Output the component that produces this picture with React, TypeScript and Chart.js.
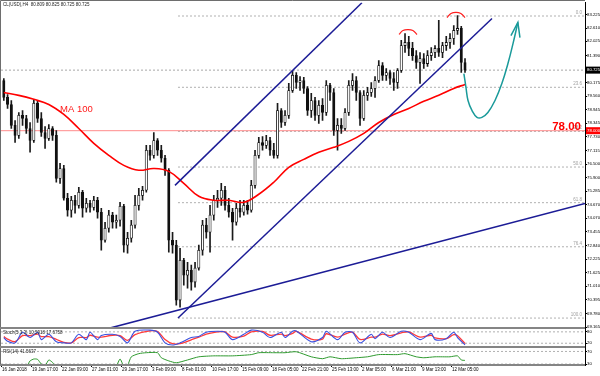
import React, { useEffect, useRef } from "react";
import { Chart, registerables } from "chart.js";

Chart.register(...registerables);

const FONT = '"Liberation Sans", Arial, sans-serif';

// ---------- texts ----------
const titleText = "CL(USD),H4  80.809 80.825 80.725 80.725";
const stochText = "Stoch(5,3,3) 10.5918 17.6758";
const rsiText = "RSI(14) 41.5637";
const maText = "MA 100";

// ---------- time axis (H4 bar units) ----------
const dateTickBars = [0, 16, 32, 48, 64, 80, 96, 112, 128, 144, 160, 176, 192, 208, 224, 240];
const dateLabels = [
  "16 Jan 2018", "19 Jan 17:00", "22 Jan 09:00", "27 Jan 01:00", "29 Jan 17:00", "3 Feb 09:00",
  "8 Feb 01:00", "10 Feb 17:00", "15 Feb 09:00", "18 Feb 05:00", "22 Feb 21:00", "25 Feb 13:00",
  "2 Mar 05:00", "6 Mar 21:00", "9 Mar 13:00", "12 Mar 05:00",
];

// ---------- price axis ----------
const priceTicks = [
  83.225, 82.61, 82.025, 81.39, 80.175, 79.56, 78.945, 78.345, 77.73, 77.115, 76.5, 75.9,
  75.285, 74.67, 74.07, 73.455, 72.84, 72.225, 71.625, 71.01, 70.395, 69.78, 69.165,
];
const stochTicks = [80, 20];
const rsiTicks = [70, 30];

// ---------- candles (each = 2 H4 bars) ----------
const opens = [
  80.26, 79.5, 79.18, 78.24, 77.79, 78.69, 78.55, 78.1, 77.56, 79.23,
  78.55, 77.92, 77.65, 78.1, 77.79, 75.85, 76.3, 74.96, 74.42, 74.87,
  74.64, 75.23, 74.51, 74.73, 74.55, 74.87, 74.33, 73.07, 73.61, 74.2,
  73.88, 73.97, 74.6, 72.85, 73.16, 73.75, 74.64, 75.09, 75.32, 77.12,
  76.89, 77.56, 77.12, 76.76, 76.22, 73.07, 72.85, 70.38, 72.17, 71.5,
  71.72, 71.19, 71.82, 72.62, 73.75, 73.43, 74.2, 74.87, 74.96, 75.32,
  74.64, 74.33, 73.88, 74.51, 74.33, 74.64, 74.42, 75.54, 76.89, 77.47,
  77.34, 77.56, 77.12, 76.89, 78.91, 78.37, 78.69, 79.81, 80.49, 80.17,
  80.26, 79.9, 78.91, 79.36, 78.69, 79.14, 78.82, 80.04, 79.72, 78.01,
  78.24, 78.1, 78.82, 80.04, 80.26, 79.72, 78.55, 79.59, 79.72, 79.9,
  80.26, 80.93, 80.49, 80.62, 80.35, 80.17, 80.71, 81.83, 81.97, 81.7,
  81.38, 81.07, 81.25, 81.02, 81.38, 81.52, 81.7, 81.52, 81.83, 81.97,
  82.15, 82.51, 82.6, 81.07,
];
const highs = [
  80.35, 79.63, 79.36, 78.46, 78.82, 78.91, 78.69, 78.37, 79.41, 79.36,
  78.82, 78.19, 78.28, 78.19, 78.01, 76.53, 76.44, 75.18, 75.05, 75.09,
  75.45, 75.32, 74.96, 74.87, 75.05, 75.0, 74.51, 73.88, 74.42, 74.33,
  74.2, 74.78, 74.69, 73.43, 73.97, 75.09, 75.41, 75.5, 77.34, 77.34,
  77.92, 77.65, 77.34, 76.89, 76.3, 73.43, 73.07, 72.71, 72.26, 72.08,
  71.95, 72.08, 72.85, 73.97, 74.06, 74.64, 75.09, 75.32, 75.63, 75.5,
  74.96, 74.51, 74.73, 74.87, 74.87, 74.87, 75.77, 77.12, 77.7, 77.74,
  77.79, 77.7, 77.43, 79.23, 79.0, 78.91, 80.13, 80.71, 80.62, 80.44,
  80.4, 79.99, 79.68, 79.5, 79.36, 79.45, 80.26, 80.13, 79.9, 78.55,
  78.55, 79.0, 80.26, 80.57, 80.44, 79.81, 79.81, 79.95, 80.17, 80.44,
  81.16, 81.07, 80.8, 80.71, 80.62, 80.8, 82.06, 82.37, 82.24, 81.97,
  81.61, 81.52, 81.47, 81.61, 81.74, 81.83, 82.96, 81.97, 82.24, 82.37,
  82.73, 83.18, 82.69, 81.25,
];
const lows = [
  79.36, 79.0, 78.1, 77.47, 77.65, 78.24, 77.88, 77.03, 77.47, 78.37,
  77.74, 77.2, 77.56, 77.56, 75.68, 75.63, 74.87, 74.15, 74.11, 74.29,
  74.51, 74.11, 74.33, 74.33, 74.42, 74.06, 72.62, 72.98, 73.43, 73.61,
  73.61, 73.7, 72.53, 72.49, 72.98, 73.61, 74.42, 74.87, 75.23, 76.67,
  76.76, 76.89, 76.58, 75.99, 72.53, 72.49, 70.15, 70.06, 71.05, 70.92,
  70.83, 70.96, 71.72, 72.4, 73.16, 72.53, 73.97, 74.55, 74.64, 74.42,
  74.11, 73.07, 73.75, 74.11, 74.2, 74.24, 74.33, 75.41, 76.76, 77.12,
  77.2, 76.89, 76.76, 76.76, 78.15, 78.24, 78.55, 79.72, 79.9, 79.81,
  79.68, 78.69, 78.6, 78.46, 78.33, 78.46, 78.69, 79.36, 77.79, 77.12,
  77.88, 78.01, 78.69, 79.81, 79.36, 78.24, 78.46, 79.36, 79.54, 79.5,
  80.17, 80.26, 80.26, 80.08, 79.81, 79.9, 80.62, 81.52, 81.38, 81.16,
  80.8, 80.13, 80.8, 80.89, 81.16, 81.29, 81.34, 81.29, 81.61, 81.7,
  81.88, 82.33, 80.62, 80.62,
];
const closes = [
  79.5, 79.18, 78.24, 77.79, 78.69, 78.55, 78.1, 77.56, 79.23, 78.55,
  77.92, 77.65, 78.1, 77.79, 75.85, 76.3, 74.96, 74.42, 74.87, 74.64,
  75.23, 74.51, 74.73, 74.55, 74.87, 74.33, 73.07, 73.61, 74.2, 73.88,
  73.97, 74.6, 72.85, 73.16, 73.75, 74.64, 75.09, 75.32, 77.12, 76.89,
  77.56, 77.12, 76.76, 76.22, 73.07, 72.85, 70.38, 72.17, 71.5, 71.72,
  71.19, 71.82, 72.62, 73.75, 73.43, 74.2, 74.87, 74.96, 75.32, 74.64,
  74.33, 73.88, 74.51, 74.33, 74.64, 74.42, 75.54, 76.89, 77.47, 77.34,
  77.56, 77.12, 76.89, 78.91, 78.37, 78.69, 79.81, 80.49, 80.17, 80.26,
  79.9, 78.91, 79.36, 78.69, 79.14, 78.82, 80.04, 79.72, 78.01, 78.24,
  78.1, 78.82, 80.04, 80.26, 79.72, 78.55, 79.59, 79.72, 79.9, 80.26,
  80.93, 80.49, 80.62, 80.35, 80.17, 80.71, 81.83, 81.97, 81.7, 81.38,
  81.07, 81.25, 81.02, 81.38, 81.52, 81.7, 81.52, 81.83, 81.97, 82.15,
  82.51, 82.6, 81.07, 80.725,
];

// ---------- MA 100 (sampled at candle indices) ----------
const maIdx = [0, 4, 8, 12, 16, 20, 24, 28, 32, 36, 40, 44, 48, 52, 56, 60, 64, 68, 72, 76, 80, 84, 88, 92, 96, 100, 104, 108, 112, 116, 120, 123];
const maValues = [
  79.72, 79.59, 79.41, 79.18, 78.73, 78.1, 77.43, 76.89, 76.44, 76.22, 76.3, 76.17, 75.63, 75.05, 74.87, 74.87,
  74.78, 75.14, 75.68, 76.35, 76.71, 77.03, 77.25, 77.52, 77.88, 78.37, 78.73, 79.0, 79.32, 79.59, 79.9, 80.08,
];

// ---------- Stochastic (candle indices) ----------
const stochIdx = [
  0, 1, 3, 5, 7, 9, 10, 12, 14, 16, 18, 20, 22, 23, 25, 26, 29, 31, 33, 35, 39, 41, 43, 45, 47, 50, 52, 54, 57, 59,
  61, 64, 66, 69, 71, 74, 75, 77, 78, 82, 85, 86, 89, 91, 93, 95, 98, 99, 101, 103, 106, 108, 111, 114, 115, 118, 120, 121, 123,
];
const stochMain = [
  50, 30, 22, 78, 50, 78, 39, 67, 28, 22, 22, 67, 39, 78, 39, 61, 67, 56, 22, 83, 89, 78, 22, 11, 22, 50, 56, 78, 83, 78,
  39, 67, 89, 78, 50, 78, 50, 83, 85, 28, 50, 83, 39, 78, 78, 22, 67, 44, 78, 50, 83, 78, 39, 72, 39, 44, 78, 50, 11,
];
const stochSignal = [
  55, 42, 28, 60, 60, 68, 55, 55, 40, 25, 22, 50, 50, 62, 52, 52, 62, 60, 35, 65, 85, 82, 40, 18, 18, 38, 52, 68, 80, 80,
  52, 58, 80, 82, 62, 68, 60, 72, 82, 42, 42, 70, 52, 68, 78, 40, 52, 52, 68, 60, 75, 80, 52, 62, 48, 44, 65, 60, 18,
];

// ---------- RSI (candle indices) ----------
const rsiIdx = [
  0, 2, 4, 6, 7, 8, 9, 10, 11, 12, 13, 14, 16, 20, 24, 28, 30, 31, 32, 33, 34, 36, 38, 41, 42, 44, 46, 49, 52, 56,
  61, 66, 68, 72, 75, 78, 82, 85, 87, 90, 94, 97, 100, 105, 107, 110, 112, 115, 119, 121, 122, 123,
];
const rsiValues = [
  24, 20, 24, 22, 40, 46, 45, 30, 25, 43, 35, 20, 18, 24, 22, 20, 25, 46, 24, 26, 53, 63, 66, 66, 50, 40, 34, 43, 53, 56,
  56, 60, 66, 66, 66, 69, 53, 47, 53, 47, 50, 53, 60, 60, 63, 53, 50, 53, 53, 56, 43, 41.56,
];

// ---------- levels ----------
const lastPrice = 80.725;
const keyLevel = 78.0;
const fibHigh = 83.16;
const fibLow = 69.57;
const fibStartBar = 93.9;
const fibLevels = [0, 23.6, 38.2, 50, 61.8, 76.4, 100];

// ---------- drawn objects (bar, price) ----------
const upperChannelBars = [92.3, 192.0];
const upperChannelPrices = [75.54, 83.76];
const lowerChannelBars = [93.9, 261.4];
const lowerChannelPrices = [69.57, 83.05];
const supportBars = [57.6, 311];
const supportPrices = [69.12, 74.73];
const arrowBars = [246.4, 247.5, 248.6, 250.7, 253.4, 256.0, 259.2, 263.0, 266.7, 269.9, 272.6, 275.2];
const arrowPrices = [80.57, 79.95, 79.36, 78.91, 78.6, 78.6, 78.82, 79.36, 80.13, 81.02, 81.92, 82.87];
const arrowHeadBars = [271.5, 275.2, 276.3];
const arrowHeadPrices = [82.28, 82.87, 82.19];
const arc1Bars = [211.8, 213.9, 216.6, 219.2, 221.4];
const arc1Prices = [82.33, 82.51, 82.55, 82.51, 82.33];
const arc2Bars = [237.4, 239.5, 242.2, 244.8, 247.0];
const arc2Prices = [83.09, 83.27, 83.32, 83.27, 83.09];
const maLabelAt = { bar: 31, price: 78.82 };

const X_MIN = -0.5;
const X_MAX = 311;

const pts = (xs: number[], ys: number[]) => xs.map((x, k) => ({ x, y: ys[k] }));
const candleBar = (i: number) => 2 * i + 1;

export default function App() {
  const ref = useRef<HTMLCanvasElement | null>(null);

  useEffect(() => {
    const canvas = ref.current;
    if (!canvas) return;
    Chart.defaults.font.family = FONT;

    const line = (data: any[], color: string, width: number, extra: any = {}) => ({
      type: "line",
      data,
      borderColor: color,
      borderWidth: width,
      pointRadius: 0,
      fill: false,
      tension: 0,
      yAxisID: "y",
      clip: 0,
      order: 2,
      ...extra,
    });

    const fibPrice = (p: number) => fibHigh - (p / 100) * (fibHigh - fibLow);

    const datasets: any[] = [
      // candles
      {
        type: "bar",
        data: highs.map((h, i) => ({ x: candleBar(i), y: [lows[i], h] })),
        backgroundColor: "#1a1a1a",
        barThickness: 1,
        grouped: false,
        yAxisID: "y",
        order: 6,
        clip: 0,
      },
      {
        type: "bar",
        data: opens.map((o, i) => ({ x: candleBar(i), y: [o, closes[i]] })),
        backgroundColor: opens.map((o, i) => (closes[i] >= o ? "#ffffff" : "#111111")),
        borderColor: "#111",
        borderWidth: 0.8,
        borderSkipped: false,
        barThickness: 2.4,
        grouped: false,
        yAxisID: "y",
        order: 5,
        clip: 0,
      },
      // levels
      line([{ x: X_MIN, y: keyLevel }, { x: X_MAX, y: keyLevel }], "#ff8c8c", 1, { order: 7 }),
      line([{ x: X_MIN, y: lastPrice }, { x: X_MAX, y: lastPrice }], "#a8a8a8", 1, { order: 8, borderDash: [2, 2] }),
      ...fibLevels.map((f) =>
        line([{ x: fibStartBar, y: fibPrice(f) }, { x: X_MAX, y: fibPrice(f) }], "#b0b0b0", 1, { order: 8, borderDash: [2, 2] })
      ),
      // MA 100
      line(pts(maIdx.map(candleBar), maValues), "#ff0000", 1.6, { tension: 0.4, order: 3 }),
      // trend lines
      line(pts(upperChannelBars, upperChannelPrices), "#1c1c96", 1.5),
      line(pts(lowerChannelBars, lowerChannelPrices), "#1c1c96", 1.5),
      line(pts(supportBars, supportPrices), "#1c1c96", 1.5),
      // arcs
      line(pts(arc1Bars, arc1Prices), "#ff2020", 1.2, { tension: 0.4 }),
      line(pts(arc2Bars, arc2Prices), "#ff2020", 1.2, { tension: 0.4 }),
      // projected path arrow
      line(pts(arrowBars, arrowPrices), "#1a9a9a", 1.5, { tension: 0.4, order: 1 }),
      line(pts(arrowHeadBars, arrowHeadPrices), "#1a9a9a", 1.5, { order: 1 }),
      // stochastic
      line([{ x: X_MIN, y: 80 }, { x: X_MAX, y: 80 }], "#b0b0b0", 1, { yAxisID: "yS", borderDash: [2, 2], order: 8 }),
      line([{ x: X_MIN, y: 20 }, { x: X_MAX, y: 20 }], "#b0b0b0", 1, { yAxisID: "yS", borderDash: [2, 2], order: 8 }),
      line(pts(stochIdx.map(candleBar), stochSignal), "#ff3b3b", 1.3, { yAxisID: "yS", tension: 0.3, order: 4 }),
      line(pts(stochIdx.map(candleBar), stochMain), "#3a50e0", 1.1, { yAxisID: "yS", tension: 0.3, order: 3 }),
      // RSI
      line([{ x: X_MIN, y: 70 }, { x: X_MAX, y: 70 }], "#b0b0b0", 1, { yAxisID: "yR", borderDash: [2, 2], order: 8 }),
      line([{ x: X_MIN, y: 30 }, { x: X_MAX, y: 30 }], "#b0b0b0", 1, { yAxisID: "yR", borderDash: [2, 2], order: 8 }),
      line(pts(rsiIdx.map(candleBar), rsiValues), "#2f9a2f", 1, { yAxisID: "yR", tension: 0.2, order: 3 }),
    ];

    const axisTicks = { size: 4.3, family: FONT };

    const overlay = {
      id: "overlay",
      beforeDraw(chart: any) {
        const { ctx, width, height } = chart;
        ctx.save();
        ctx.fillStyle = "#ffffff";
        ctx.fillRect(0, 0, width, height);
        ctx.restore();
      },
      afterDraw(chart: any) {
        const { ctx, chartArea: a, scales } = chart;
        const { x, y, yS, yR } = scales;
        ctx.save();
        // frame
        ctx.strokeStyle = "#6e6e6e";
        ctx.lineWidth = 1;
        ctx.beginPath();
        ctx.moveTo(0.5, yR.bottom);
        ctx.lineTo(0.5, 0.5);
        ctx.lineTo(a.right, 0.5);
        ctx.stroke();
        // pane separators
        ctx.strokeStyle = "#858585";
        ctx.lineWidth = 2;
        [y.bottom, yS.bottom, yR.bottom].forEach((b: number) => {
          ctx.beginPath();
          ctx.moveTo(0, b);
          ctx.lineTo(a.right, b);
          ctx.stroke();
        });
        // fib labels
        ctx.font = `4.5px ${FONT}`;
        ctx.fillStyle = "#a0a0a0";
        ctx.textAlign = "right";
        ctx.textBaseline = "bottom";
        fibLevels.forEach((f) => {
          ctx.fillText(f.toFixed(1), a.right - 3, y.getPixelForValue(fibPrice(f)) - 1);
        });
        // title + indicator captions
        ctx.fillStyle = "#222";
        ctx.textAlign = "left";
        ctx.textBaseline = "middle";
        ctx.fillText(titleText, 3, 5);
        ctx.fillText(stochText, 3, yS.top + 5);
        ctx.fillText(rsiText, 3, yR.top + 5);
        // MA label
        ctx.font = `9.5px ${FONT}`;
        ctx.fillStyle = "#ff1a1a";
        ctx.textBaseline = "alphabetic";
        ctx.fillText(maText, x.getPixelForValue(maLabelAt.bar), y.getPixelForValue(maLabelAt.price));
        // 78.00 label
        ctx.font = `bold 11.5px ${FONT}`;
        ctx.textAlign = "right";
        ctx.fillStyle = "#ff0000";
        ctx.fillText(keyLevel.toFixed(2), a.right - 4, y.getPixelForValue(keyLevel) - 0.5);
        // price boxes
        const box = (price: number, bg: string) => {
          const py = y.getPixelForValue(price);
          ctx.fillStyle = bg;
          ctx.fillRect(a.right + 1, py - 3.5, 15, 7);
          ctx.fillStyle = "#fff";
          ctx.font = `4.3px ${FONT}`;
          ctx.textAlign = "left";
          ctx.textBaseline = "middle";
          ctx.fillText(price.toFixed(3), a.right + 2, py);
        };
        box(lastPrice, "#000000");
        box(keyLevel, "#ff0000");
        ctx.restore();
      },
    };

    const yAxisCommon = (weight: number) => ({
      type: "linear",
      position: "right",
      stack: "panes",
      stackWeight: weight,
      beginAtZero: false,
      afterFit: (s: any) => {
        s.width = 15;
      },
      grid: { drawOnChartArea: false, tickLength: 2, color: "#000" },
      border: { color: "#000", width: 1 },
    });

    const chart = new Chart(canvas, {
      type: "bar",
      data: { datasets },
      plugins: [overlay],
      options: {
        animation: false,
        responsive: false,
        devicePixelRatio: 1,
        events: [],
        layout: { padding: { top: 2, left: 1, right: 0, bottom: 0 } },
        plugins: { legend: { display: false }, tooltip: { enabled: false } },
        scales: {
          x: {
            type: "linear",
            min: X_MIN,
            max: X_MAX,
            offset: false,
            afterBuildTicks: (s: any) => {
              s.ticks = dateTickBars.map((v) => ({ value: v }));
            },
            afterFit: (s: any) => {
              s.height = 11;
            },
            ticks: {
              autoSkip: false,
              maxRotation: 0,
              minRotation: 0,
              align: "start",
              padding: 0,
              color: "#000",
              font: { size: 4.5, family: FONT },
              callback: (v: any) => dateLabels[dateTickBars.indexOf(Number(v))] ?? "",
            },
            grid: { drawOnChartArea: false, tickLength: 2, offset: false, color: "#000" },
            border: { color: "#000" },
          },
          y: {
            ...yAxisCommon(326),
            min: 69.12,
            max: 83.764,
            afterBuildTicks: (s: any) => {
              s.ticks = priceTicks.map((v) => ({ value: v }));
            },
            ticks: {
              autoSkip: false,
              padding: 0,
              color: "#000",
              font: axisTicks,
              callback: (v: any) => Number(v).toFixed(3),
            },
          },
          yS: {
            ...yAxisCommon(19),
            min: 0,
            max: 100,
            afterBuildTicks: (s: any) => {
              s.ticks = stochTicks.map((v) => ({ value: v }));
            },
            ticks: { autoSkip: false, padding: 0, color: "#000", font: axisTicks, callback: (v: any) => String(v) },
          },
          yR: {
            ...yAxisCommon(18),
            min: 27,
            max: 84,
            afterBuildTicks: (s: any) => {
              s.ticks = rsiTicks.map((v) => ({ value: v }));
            },
            ticks: { autoSkip: false, padding: 0, color: "#000", font: axisTicks, callback: (v: any) => String(v) },
          },
        },
      } as any,
    } as any);

    return () => chart.destroy();
  }, []);

  return (
    <div style={{ position: "fixed", left: 0, top: 0, width: 600, height: 376, background: "#fff" }}>
      <canvas ref={ref} width={600} height={376} style={{ display: "block", width: 600, height: 376 }} />
    </div>
  );
}
